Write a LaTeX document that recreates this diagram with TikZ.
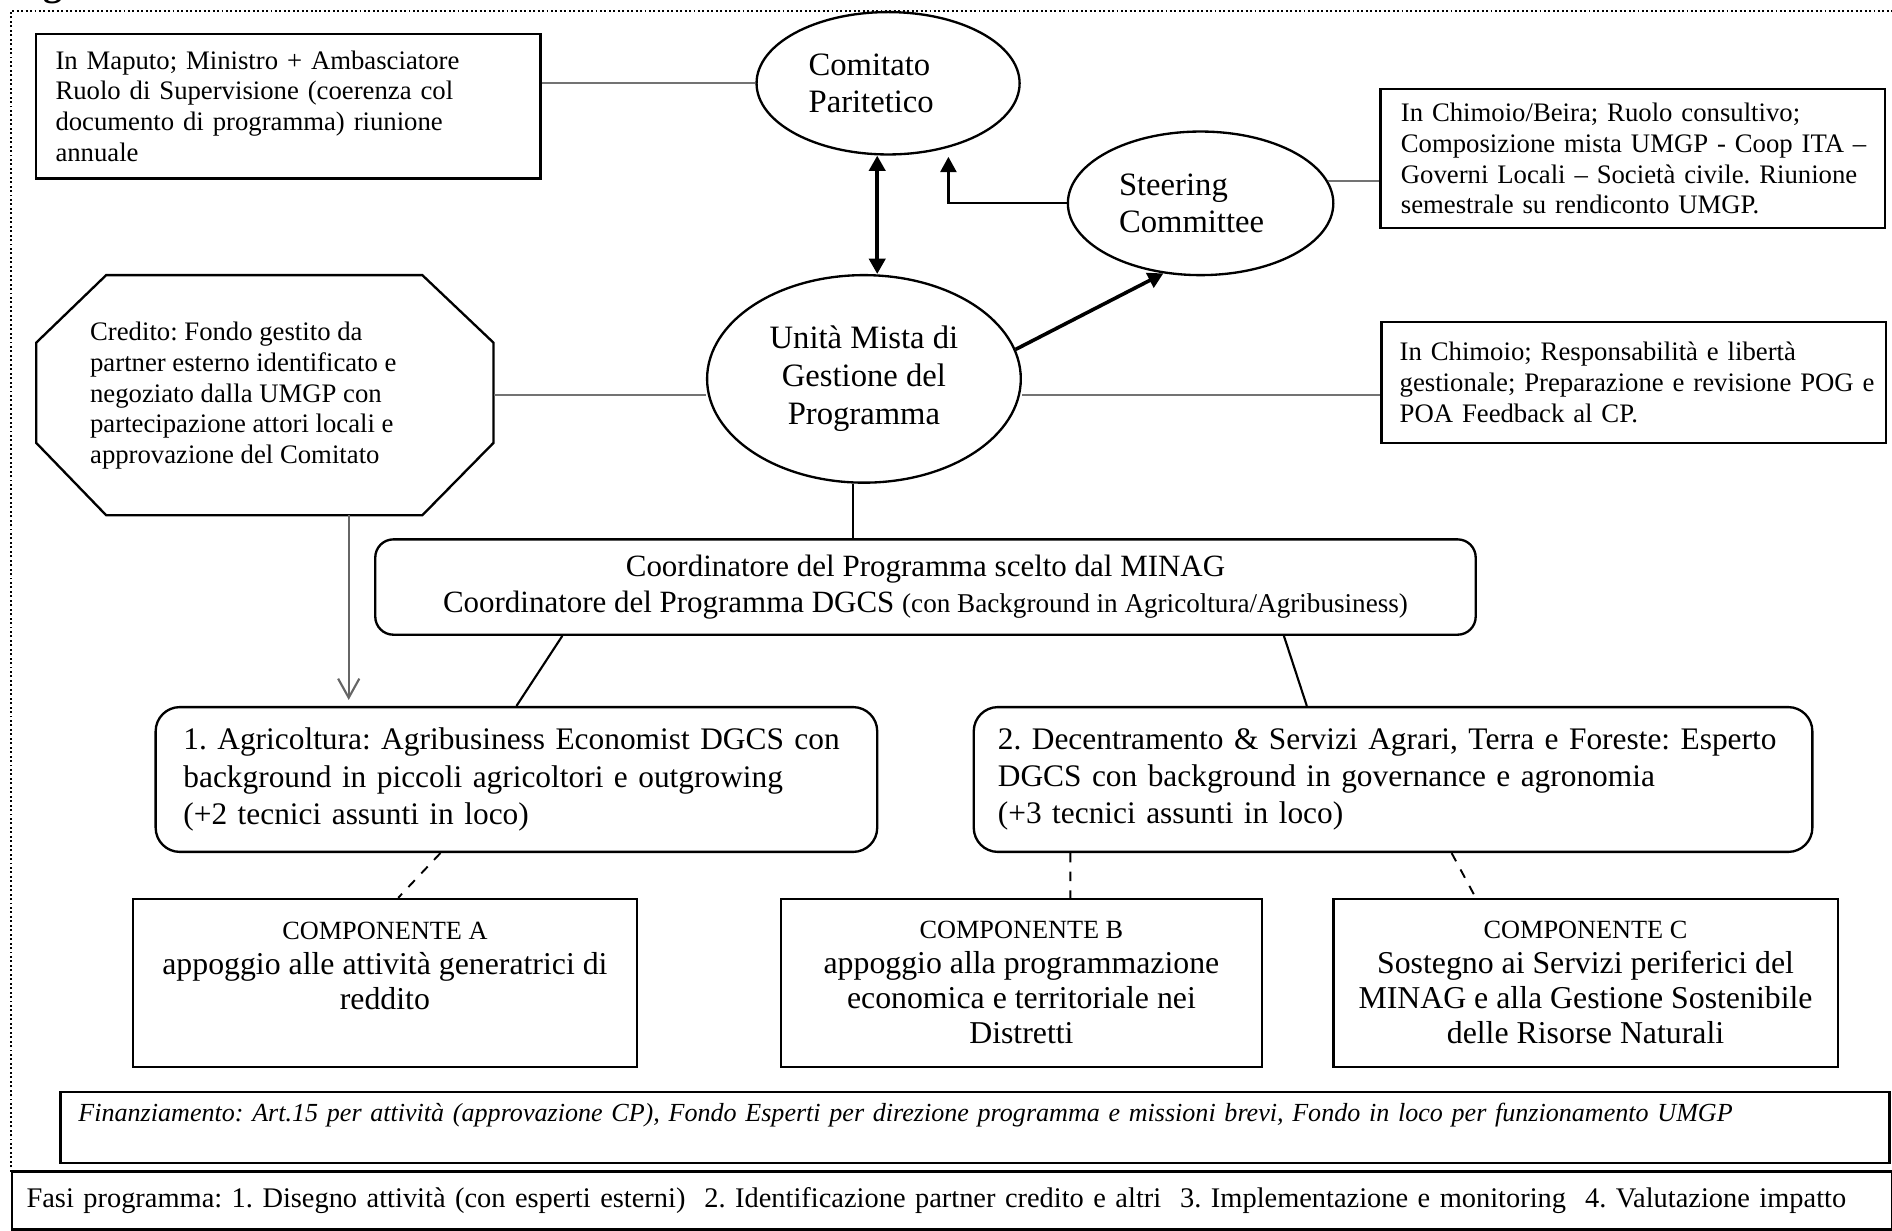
\documentclass[tikz,border=0pt]{standalone}
\usepackage{fontspec}
\setmainfont{Liberation Serif}
\usetikzlibrary{arrows.meta,calc,shapes.geometric}
\frenchspacing
\newcommand{\fsmall}{\fontsize{6.3pt}{7.25pt}\selectfont}
\newcommand{\fell}{\fontsize{7.7pt}{8.9pt}\selectfont}
\newcommand{\fcoord}{\fontsize{7.3pt}{8.3pt}\selectfont}
\newcommand{\fparen}{\fontsize{6.4pt}{8.3pt}\selectfont}
\newcommand{\fagri}{\fontsize{7.4pt}{8.75pt}\selectfont}
\newcommand{\fcomp}{\fontsize{7.5pt}{8.25pt}\selectfont}
\newcommand{\fcomphead}{\fontsize{6.2pt}{8.25pt}\selectfont}
\newcommand{\ffin}{\fontsize{6.15pt}{7pt}\selectfont\itshape}
\newcommand{\ffasi}{\fontsize{6.7pt}{7.6pt}\selectfont}
\begin{document}
\begin{tikzpicture}[x=0.1mm,y=-0.1mm,
  txtbox/.style={draw, line width=0.55pt, rectangle, align=left, inner ysep=0pt},
  rbox/.style={draw, line width=0.55pt, rectangle, rounded corners=2mm, align=left, inner ysep=0pt},
  ell/.style={draw, ellipse, line width=0.55pt, inner sep=0pt, font=\fell},
  link/.style={line width=0.45pt, black!55},
  plain/.style={line width=0.5pt, black},
  dashlink/.style={line width=0.45pt, black, dash pattern=on 2.2pt off 2.2pt},
  bigarrow/.style={line width=0.85pt, -{Triangle[length=3.6pt,width=3.8pt]}},
  dblarrow/.style={line width=0.85pt, {Triangle[length=3.6pt,width=3.8pt]}-{Triangle[length=3.6pt,width=3.8pt]}},
  midarrow/.style={line width=0.55pt, -{Triangle[length=3.6pt,width=3.8pt]}},
  openarrow/.style={line width=0.45pt, black!60, -{Straight Barb[length=4.5pt,width=5pt,line width=0.5pt]}},
  border/.style={line width=0.5pt, dash pattern=on 0.45pt off 0.6pt}
]
\useasboundingbox (0,0) rectangle (1568,1020);
\clip (0,0) rectangle (1568,1020);

% caption remnant and dotted frame
\node[anchor=south west, inner sep=0pt, font=\bfseries\fontsize{9pt}{10pt}\selectfont] (capg) at (35,4) {g};
\draw[border] (9,971) -- (9,9) -- (1568,9);

% top row
\node[txtbox, font=\fsmall, text width=38.6mm, inner xsep=1.6mm, minimum height=12mm] (map) at (239,88)
  {In Maputo; Ministro + Ambasciatore\\Ruolo di Supervisione (coerenza col\\documento di programma) riunione\\annuale};
\node[ell, minimum width=21.8mm, minimum height=11.8mm, align=left] (cp) at (736,69)
  {Comitato\\Paritetico\rule{2.8mm}{0pt}};
\node[ell, minimum width=22mm, minimum height=11.9mm, align=left] (st) at (995,168.5)
  {Steering\\Committee\rule{1.5mm}{0pt}};
\node[txtbox, font=\fsmall, text width=38.4mm, inner xsep=1.7mm, minimum height=11.5mm] (chb) at (1353,131.5)
  {In Chimoio/Beira; Ruolo consultivo;\\\mbox{Composizione mista UMGP - Coop ITA --}\\Governi Locali -- Società civile. Riunione\\semestrale su rendiconto UMGP.};

% middle row
\node[ell, minimum width=26mm, minimum height=17.2mm, align=center] (umgp) at (716,314)
  {Unità Mista di\\Gestione del\\Programma};
\node[txtbox, font=\fsmall, text width=38.8mm, inner xsep=1.5mm, minimum height=10mm] (chi) at (1354,317)
  {In Chimoio; Responsabilità e libertà\\\mbox{gestionale; Preparazione e revisione POG e}\\POA Feedback al CP.};

% octagon (credito)
\coordinate (o1) at (88,228);
\coordinate (o2) at (350,228);
\coordinate (o3) at (409,284);
\coordinate (o4) at (409,367);
\coordinate (o5) at (350,427);
\coordinate (o6) at (88,427);
\coordinate (o7) at (30,367);
\coordinate (o8) at (30,284);
\coordinate (oE) at (409,327);
\coordinate (oS) at (289,427);
\draw[line width=0.55pt] (o1) -- (o2) -- (o3) -- (o4) -- (o5) -- (o6) -- (o7) -- (o8) -- cycle;
\node[anchor=west, align=left, font=\fsmall, inner sep=0pt] (cred) at (74,328)
  {Credito: Fondo gestito da\\partner esterno identificato e\\negoziato dalla UMGP con\\partecipazione attori locali e\\approvazione del Comitato};

% coordinator
\node[rbox, rounded corners=1.5mm, align=center, font=\fcoord, minimum width=91.2mm, minimum height=7.9mm, inner xsep=0pt] (coord) at (767,486.5)
  {Coordinatore del Programma scelto dal MINAG\\Coordinatore del Programma DGCS {\fparen(con Background in Agricoltura/Agribusiness)}};

% experts
\node[rbox, font=\fagri, text width=55.2mm, inner xsep=2.3mm, minimum height=12mm] (agri) at (428,646)
  {\mbox{1. Agricoltura: Agribusiness Economist DGCS con}\\background in piccoli agricoltori e outgrowing\\(+2 tecnici assunti in loco)};
\node[rbox, font=\fagri, text width=65.5mm, inner xsep=2mm, minimum height=12mm] (dec) at (1154.5,646)
  {\mbox{2. Decentramento \& Servizi Agrari, Terra e Foreste: Esperto}\\DGCS con background in governance e agronomia\\(+3 tecnici assunti in loco)};

% components
\node[txtbox, align=center, font=\fcomp, minimum width=41.8mm, minimum height=13.9mm, inner xsep=0pt] (cA) at (319,814.5)
  {{\fcomphead COMPONENTE A}\\appoggio alle attività generatrici di\\reddito\\\mbox{}};
\node[txtbox, align=center, font=\fcomp, minimum width=39.9mm, minimum height=13.9mm, inner xsep=0pt] (cB) at (846.5,814.5)
  {{\fcomphead COMPONENTE B}\\appoggio alla programmazione\\economica e territoriale nei\\Distretti};
\node[txtbox, align=center, font=\fcomp, minimum width=41.8mm, minimum height=13.9mm, inner xsep=0pt] (cC) at (1314,814.5)
  {{\fcomphead COMPONENTE C}\\Sostegno ai Servizi periferici del\\MINAG e alla Gestione Sostenibile\\delle Risorse Naturali};

% bottom boxes
\node[txtbox, font=\ffin, text width=148.6mm, inner xsep=1.5mm, minimum height=5.9mm] (fin) at (808,934.5)
  {Finanziamento: Art.15 per attività (approvazione CP), Fondo Esperti per direzione programma e missioni brevi, Fondo in loco per funzionamento UMGP\\\mbox{}};
\node[txtbox, font=\ffasi, text width=153.4mm, inner xsep=1.2mm, minimum height=4.8mm] (fasi) at (789,995)
  {Fasi programma: 1. Disegno attività (con esperti esterni)~ 2. Identificazione partner credito e altri~ 3. Implementazione e monitoring~ 4. Valutazione impatto};

% connectors
\coordinate (ax) at (727,0);
\coordinate (cpb) at (786,130);
\coordinate (uc) at (707,0);
\draw[link] (map.east |- cp.west) -- (cp.west);
\draw[link] (st.10.9) -- (st.10.9 -| chb.west);
\draw[link] (oE) -- (oE -| umgp.west);
\draw[link] (umgp.east |- oE) -- (chi.west |- oE);
\draw[dblarrow] (ax |- cp.south) -- (ax |- umgp.north);
\draw[midarrow] (st.west) -| (cpb);
\draw[bigarrow] (umgp.11.8) -- (st.242.7);
\draw[plain] (uc |- umgp.south) -- (uc |- coord.north);
\draw[openarrow] (oS) -- ($(oS |- agri.north)+(0,-5)$);
\draw[plain] ($(coord.south west)+(156,0)$) -- ($(agri.north west)+(300,0)$);
\draw[plain] ($(coord.south west)+(754,0)$) -- ($(dec.north west)+(277,0)$);
\draw[dashlink] ($(agri.south west)+(237,0)$) -- ($(cA.north west)+(221,0)$);
\draw[dashlink] ($(dec.south west)+(81,0)$) -- ($(cB.north west)+(241,0)$);
\draw[dashlink] ($(dec.south west)+(397,0)$) -- ($(cC.north west)+(119,0)$);
\end{tikzpicture}
\end{document}
